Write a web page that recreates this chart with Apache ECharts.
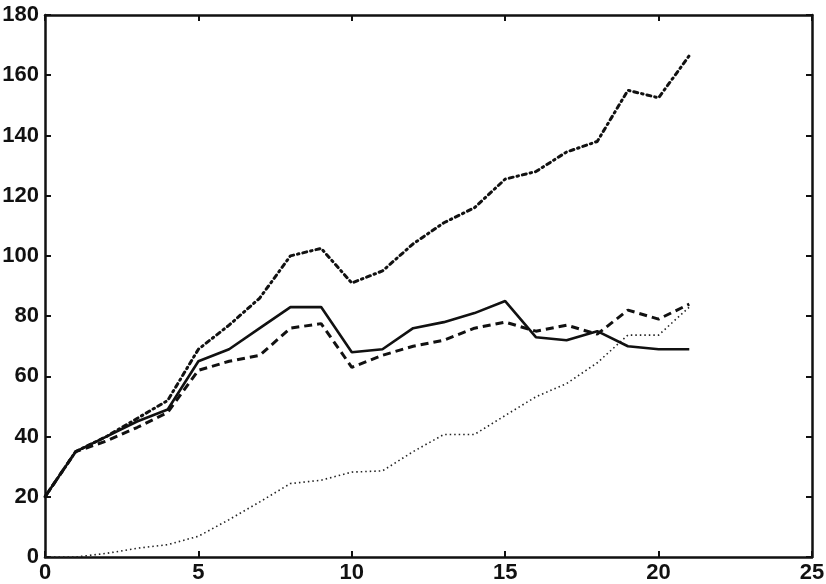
<!DOCTYPE html>
<html>
<head>
<meta charset="utf-8">
<script src="https://cdn.jsdelivr.net/npm/echarts@6/dist/echarts.min.js"></script>
<style>html,body{margin:0;padding:0;background:#fff}#c{width:826px;height:584px}</style>
</head>
<body>
<div id="c"></div>
<script>
const xs = [0,1,2,3,4,5,6,7,8,9,10,11,12,13,14,15,16,17,18,19,20,21];
const solidVals = [20,35,40,45,49,65,69,76,83,83,68,69,76,78,81,85,73,72,75,70,69,69];
const dashedVals = [20,35,38.5,43,48,62,65,67,76,77.5,63,67,70,72,76,78,75,77,74,82,79,84];
const dashDotVals = [20,35,40,46,52,69,77,86,100,102.5,91,95,104,111,116,125.5,128,134.5,138,155,152.5,166.5];
const dottedVals = [0,0,1.2,2.9,4.1,6.9,12.4,18.3,24.4,25.5,28.2,28.6,35,40.7,40.7,47,53.2,57.6,64.5,73.7,73.7,83];
const xTicks = [0,5,10,15,20,25];
const yTicks = [0,20,40,60,80,100,120,140,160,180];

function pairs(v){ return xs.map((x,i)=>[x,v[i]]); }

const font = {fontFamily:'"Liberation Sans", Arial, sans-serif', fontWeight:'bold', fontSize:22, color:'#111'};
const tick = {show:true,inside:true,length:6,lineStyle:{color:'#111',width:2}};
const line = {show:true,onZero:false,lineStyle:{color:'#111',width:2.5}};
const chart = echarts.init(document.getElementById('c'), null, {renderer:'canvas'});
chart.setOption({
  animation:false,
  backgroundColor:'#fff',
  grid:{left:45,right:14,top:15,bottom:27,containLabel:false,outerBoundsMode:'none'},
  xAxis:[
    {type:'value',min:0,max:25,interval:5,position:'bottom',
     axisLine:line, axisTick:tick,
     axisLabel:Object.assign({margin:5},font,{formatter:v=>xTicks.includes(v)?String(v):''}),
     splitLine:{show:false}},
    {type:'value',min:0,max:25,interval:5,position:'top',
     axisLine:line, axisTick:tick,
     axisLabel:{show:false},splitLine:{show:false}}
  ],
  yAxis:[
    {type:'value',min:0,max:180,interval:20,position:'left',
     axisLine:line, axisTick:tick,
     axisLabel:Object.assign({margin:6},font,{formatter:v=>yTicks.includes(v)?String(v):''}),
     splitLine:{show:false}},
    {type:'value',min:0,max:180,interval:20,position:'right',
     axisLine:line, axisTick:tick,
     axisLabel:{show:false},splitLine:{show:false}}
  ],
  series:[
    {type:'line',data:pairs(dottedVals),showSymbol:false,
     lineStyle:{color:'#222',width:1.6,type:[1.5,3]}},
    {type:'line',data:pairs(dashDotVals),showSymbol:false,
     lineStyle:{color:'#111',width:3,type:[4,4,1.5,4],cap:'round'}},
    {type:'line',data:pairs(dashedVals),showSymbol:false,
     lineStyle:{color:'#111',width:3,type:[8,5]}},
    {type:'line',data:pairs(solidVals),showSymbol:false,
     lineStyle:{color:'#111',width:2.6}}
  ]
});
</script>
</body>
</html>
